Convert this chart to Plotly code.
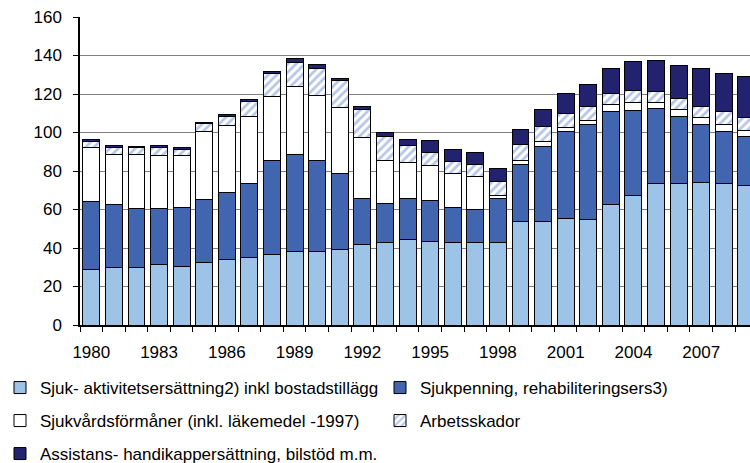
import plotly.graph_objects as go

years = list(range(1980, 2010))

sjuk_aktivitet = [29.0, 29.9, 29.9, 31.3, 30.6, 32.3, 34.0, 35.1, 36.5, 38.2,
                  38.2, 39.0, 41.6, 42.7, 44.2, 43.2, 42.7, 42.7, 42.7, 53.9,
                  53.9, 55.5, 54.6, 62.4, 67.2, 73.4, 73.4, 74.1, 73.4, 72.4]
sjukpenning = [34.9, 32.5, 30.4, 29.0, 30.7, 32.7, 34.9, 38.5, 48.9, 50.6,
               47.2, 39.6, 23.9, 20.4, 21.3, 21.6, 18.6, 17.1, 22.8, 29.7,
               38.7, 45.1, 49.6, 48.4, 44.4, 39.3, 35.1, 30.1, 27.3, 25.6]
sjukvard = [28.2, 26.4, 28.5, 27.6, 26.6, 35.7, 34.6, 34.9, 33.3, 34.9,
            34.0, 34.2, 32.0, 22.3, 19.0, 18.0, 17.3, 17.1, 1.7, 1.6,
            2.5, 1.9, 1.9, 3.6, 3.8, 2.9, 3.5, 3.6, 3.5, 3.3]
arbetsskador = [3.1, 3.3, 3.3, 4.2, 3.5, 4.0, 5.0, 7.4, 11.9, 12.6,
                13.8, 14.2, 14.5, 12.7, 8.6, 6.7, 6.4, 6.7, 7.1, 8.6,
                8.2, 7.4, 7.2, 5.9, 6.4, 5.5, 5.8, 5.5, 6.9, 6.3]
assistans = [1.2, 1.0, 0.6, 1.0, 0.9, 0.5, 0.9, 1.2, 1.1, 2.1,
             2.1, 1.2, 1.7, 1.8, 3.5, 6.2, 6.2, 6.1, 6.9, 8.0,
             8.8, 10.5, 11.5, 13.1, 15.0, 16.4, 17.1, 19.9, 19.7, 21.5]

names = [
    "Sjuk- aktivitetsersättning2) inkl bostadstillägg",
    "Sjukpenning, rehabiliteringsers3)",
    "Sjukvårdsförmåner (inkl. läkemedel -1997)",
    "Arbetsskador",
    "Assistans- handikappersättning, bilstöd m.m.",
]
y_ticks = [0, 20, 40, 60, 80, 100, 120, 140, 160]
x_label_years = [1980, 1983, 1986, 1989, 1992, 1995, 1998, 2001, 2004, 2007]

FONT = "Liberation Sans, Arial, sans-serif"
line = dict(color="black", width=1)

fig = go.Figure()
fig.add_trace(go.Bar(x=years, y=sjuk_aktivitet, name=names[0], showlegend=True,
                     marker=dict(color="#9DC3E6", line=line), legend="legend"))
fig.add_trace(go.Bar(x=years, y=sjukpenning, name=names[1], showlegend=True,
                     marker=dict(color="#4265AF", line=line), legend="legend2"))
fig.add_trace(go.Bar(x=years, y=sjukvard, name=names[2], showlegend=True,
                     marker=dict(color="white", line=line), legend="legend3"))
fig.add_trace(go.Bar(x=years, y=arbetsskador, name=names[3], showlegend=True,
                     marker=dict(color="white", line=line,
                                 pattern=dict(shape="/", fgcolor="#6A8CD2",
                                              bgcolor="white", size=6, solidity=0.45)),
                     legend="legend4"))
fig.add_trace(go.Bar(x=years, y=assistans, name=names[4], showlegend=True,
                     marker=dict(color="#22226F", line=line), legend="legend5"))

def leg(x, y):
    return dict(orientation="v", xanchor="left", yanchor="middle",
                xref="container", yref="container", x=x, y=y,
                font=dict(family=FONT, size=17, color="black"),
                bgcolor="rgba(0,0,0,0)", borderwidth=0)

col1 = 0.0
col2 = 380 / 750
row1 = (463 - 388) / 463
row2 = (463 - 421) / 463
row3 = (463 - 454) / 463

fig.update_layout(
    width=750, height=463,
    showlegend=True,
    margin=dict(l=80, r=0, t=17, b=138, autoexpand=False),
    barmode="stack", bargap=0.25,
    plot_bgcolor="white", paper_bgcolor="white",
    font=dict(family=FONT, size=17, color="black"),
    legend=leg(col1, row1),
    legend2=leg(col2, row1),
    legend3=leg(col1, row2),
    legend4=leg(col2, row2),
    legend5=leg(col1, row3),
    xaxis=dict(range=[1979.5, 2009.16], tickmode="array", tickvals=x_label_years,
               ticks="", showgrid=False, showline=True, linecolor="black",
               linewidth=1.5, zeroline=False, ticklabelstandoff=11,
               automargin=False,
               tickfont=dict(family=FONT, size=17, color="black"),
               minor=dict(tickmode="linear", tick0=1979.5, dtick=1,
                          ticks="outside", ticklen=5, tickcolor="black",
                          tickwidth=1, showgrid=False)),
    yaxis=dict(range=[0, 160], tickmode="array", tickvals=y_ticks,
               ticks="outside", ticklen=5, tickcolor="black",
               showline=True, linecolor="black", linewidth=1.5,
               showgrid=True, gridcolor="#808080", gridwidth=1,
               zeroline=False, ticklabelstandoff=8, automargin=False,
               tickfont=dict(family=FONT, size=17, color="black")),
)

fig.write_html("out.html", config={"displayModeBar": False},
               post_script="document.body.style.margin='0';document.body.style.padding='0';")
